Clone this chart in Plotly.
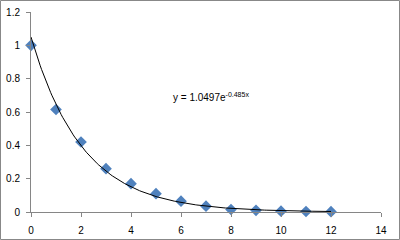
import numpy as np
import plotly.graph_objects as go

x_vals = [0, 1, 2, 3, 4, 5, 6, 7, 8, 9, 10, 11, 12]
y_vals = [1.0, 0.615, 0.42, 0.26, 0.17, 0.11, 0.065, 0.035, 0.015, 0.01, 0.005, 0.003, 0.002]
fit_a = 1.0497
fit_b = -0.485
eq_text = "y = 1.0497e<sup>-0.485x</sup>"

xs = np.linspace(0, 12, 200)
ys = fit_a * np.exp(fit_b * xs)

W, H = 400, 240
L, R, T, B = 31, 19, 12, 28
pw, ph = W - L - R, H - T - B

fig = go.Figure()
fig.add_trace(go.Scatter(x=x_vals, y=y_vals, mode="markers",
                         marker=dict(symbol="diamond", size=9, color="#4F81BD",
                                     line=dict(width=0)), showlegend=False,
                         cliponaxis=False))
fig.add_trace(go.Scatter(x=xs, y=ys, mode="lines",
                         line=dict(color="#000000", width=1), showlegend=False))

font = dict(family="Liberation Sans, Arial, sans-serif", size=10, color="#000")
axis_common = dict(showgrid=False, zeroline=False, showline=True, linecolor="#868686",
                   linewidth=1, ticks="outside", tickcolor="#868686", ticklen=4,
                   tickfont=font, automargin=False)
fig.update_xaxes(range=[0, 14], dtick=2, tick0=0, ticklabelstandoff=5, **axis_common)
fig.update_yaxes(range=[0, 1.2], dtick=0.2, tick0=0, ticklabelstandoff=4, **axis_common)

fig.add_annotation(x=7.2, y=0.69, text=eq_text, showarrow=False, font=font)

fig.add_shape(type="rect", xref="paper", yref="paper",
              x0=(-L + 0.5) / pw, x1=1 + (R - 0.5) / pw,
              y0=(-B + 0.5) / ph, y1=1 + (T - 0.5) / ph,
              line=dict(color="#888888", width=1), layer="below")

fig.update_layout(width=W, height=H, margin=dict(l=L, r=R, t=T, b=B),
                  plot_bgcolor="white", paper_bgcolor="white")
fig.write_html("out.html")
